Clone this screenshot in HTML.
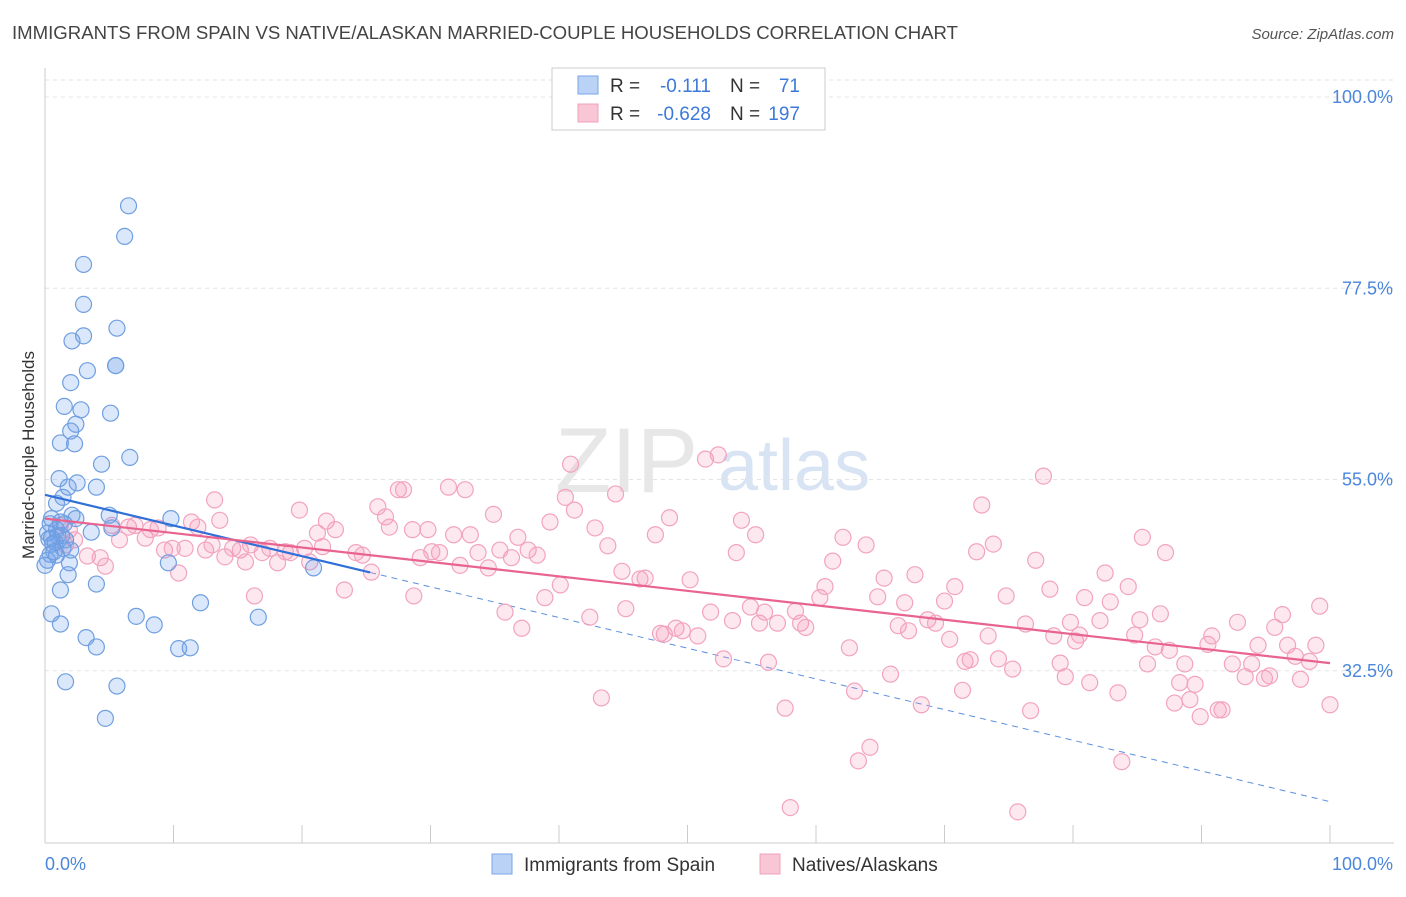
<!DOCTYPE html>
<html><head><meta charset="utf-8"><style>
body{margin:0;background:#fff;font-family:"Liberation Sans",sans-serif}
svg text{font-family:"Liberation Sans",sans-serif}
</style></head><body>
<svg id="chart" width="1406" height="892" viewBox="0 0 1406 892" xmlns="http://www.w3.org/2000/svg">
<text x="12" y="39" font-size="18.6" fill="#444">IMMIGRANTS FROM SPAIN VS NATIVE/ALASKAN MARRIED-COUPLE HOUSEHOLDS CORRELATION CHART</text>
<text x="1394" y="39" font-size="15" fill="#555" text-anchor="end" font-style="italic">Source: ZipAtlas.com</text>
<g>
<text x="555" y="492" font-size="92" fill="#ddd" font-family="Liberation Serif,serif" opacity="0.7">ZIP</text>
<text x="718" y="490" font-size="72" fill="#c8d8ee" opacity="0.7">atlas</text>
</g>
<g id="grid"></g>
<g id="axes"></g>
<g id="trend"></g>
<g id="pts"></g>
<text transform="translate(34,455) rotate(-90)" font-size="17" fill="#333" text-anchor="middle">Married-couple Households</text>
<g>
<rect x="552" y="68" width="273" height="62" fill="#fff" stroke="#ccc"/>
<rect x="578" y="76" width="20" height="18" fill="#b9d2f5" stroke="#7aa6e6"/>
<rect x="578" y="104" width="20" height="18" fill="#f9c6d6" stroke="#f0a0bc"/>
<text x="610" y="92" font-size="19" fill="#333">R =</text>
<text x="711" y="92" font-size="19" fill="#3d7ad8" text-anchor="end">-0.111</text>
<text x="730" y="92" font-size="19" fill="#333">N =</text>
<text x="800" y="92" font-size="19" fill="#3d7ad8" text-anchor="end">71</text>
<text x="610" y="120" font-size="19" fill="#333">R =</text>
<text x="711" y="120" font-size="19" fill="#3d7ad8" text-anchor="end">-0.628</text>
<text x="730" y="120" font-size="19" fill="#333">N =</text>
<text x="800" y="120" font-size="19" fill="#3d7ad8" text-anchor="end">197</text>
</g>
<g>
<rect x="492" y="854" width="20" height="20" fill="#b9d2f5" stroke="#7aa6e6"/>
<text x="524" y="871" font-size="19" fill="#333">Immigrants from Spain</text>
<rect x="760" y="854" width="20" height="20" fill="#f9c6d6" stroke="#f0a0bc"/>
<text x="792" y="871" font-size="19" fill="#333">Natives/Alaskans</text>
</g>
</svg>
<script>
const yTicks=[100,77.5,55,32.5];
const yTickLabels=["100.0%","77.5%","55.0%","32.5%"];
const xTickLabels=["0.0%","100.0%"];
const blueX=[6.5,6.2,3.0,3.0,5.6,3.0,2.1,5.5,3.3,2.0,1.5,2.8,5.1,2.4,2.0,1.2,2.3,6.6,4.4,1.1,4.0,2.5,1.8,1.4,0.9,5.0,2.1,0.5,2.4,9.8,0.4,1.5,0.9,3.6,5.2,0.2,0.5,1.0,1.3,1.6,0.6,1.4,2.0,0.9,0.4,0.0,1.9,9.6,1.8,20.9,4.0,1.2,12.1,0.5,7.1,8.5,1.2,16.6,3.2,4.0,10.4,11.3,1.6,5.6,4.7,0.2,0.8,1.2,5.5,0.3,0.7];
const blueY=[87.2,83.6,80.3,75.6,72.8,71.9,71.3,68.4,67.8,66.4,63.6,63.2,62.8,61.5,60.7,59.3,59.2,57.6,56.8,55.1,54.1,54.6,54.1,52.9,52.2,50.8,50.8,50.4,50.4,50.4,49.8,49.8,49.1,48.8,49.3,48.7,48.1,48.4,48.4,47.9,47.4,46.9,46.7,46.1,46.2,44.9,45.2,45.2,43.8,44.6,42.7,42.0,40.5,39.2,38.9,37.9,38.0,38.8,36.4,35.3,35.1,35.2,31.2,30.7,26.9,45.5,47.6,50.0,68.4,48.0,46.5];
const pinkX=[1.2,1.9,2.3,1.6,3.3,4.3,4.7,5.2,5.8,6.5,7.0,7.8,8.2,8.8,9.3,9.9,10.4,10.9,11.4,11.9,12.5,13.0,13.2,13.6,14.0,14.6,15.2,15.6,16.0,16.3,16.9,17.5,18.1,18.7,19.1,19.8,20.2,20.6,21.2,21.6,21.9,22.6,23.3,24.2,24.7,25.4,25.9,26.5,26.8,27.5,27.9,28.6,28.7,29.2,29.8,30.1,30.7,31.4,31.8,32.3,32.7,33.1,33.7,34.5,34.9,35.4,35.8,36.3,36.8,37.1,37.6,38.3,38.9,39.3,40.1,40.5,40.9,41.2,42.4,42.8,43.3,43.8,44.4,44.9,45.2,46.3,46.7,47.5,47.9,48.2,48.6,49.1,49.6,50.2,50.8,51.4,51.8,52.4,52.8,53.5,53.8,54.2,54.9,55.3,55.6,56.0,56.3,57.0,57.6,58.0,58.4,58.8,59.2,60.3,60.7,61.3,62.1,62.6,63.0,63.3,63.9,64.2,64.8,65.3,65.8,66.4,66.9,67.2,67.7,68.2,68.7,69.3,70.0,70.4,70.8,71.4,71.6,72.0,72.5,72.9,73.4,73.8,74.2,74.8,75.3,75.7,76.3,76.7,77.1,77.7,78.2,78.5,79.0,79.4,79.8,80.2,80.5,80.9,81.3,82.1,82.5,82.9,83.5,83.8,84.3,84.8,85.2,85.4,85.8,86.4,86.8,87.2,87.5,87.9,88.3,88.7,89.1,89.5,89.9,90.5,90.8,91.3,91.6,92.4,92.8,93.4,93.9,94.4,94.9,95.3,95.7,96.3,96.7,97.3,97.7,98.4,98.9,99.2,100];
const pinkY=[49.6,49.1,47.9,47.3,46.0,45.8,44.8,49.6,47.9,49.4,49.6,48.1,49.1,49.3,46.7,46.9,44.0,46.9,50.0,49.4,46.7,47.3,52.6,50.2,45.9,46.9,46.7,45.3,47.3,41.3,46.4,46.9,45.2,46.5,46.4,51.4,46.9,45.3,48.7,47.1,50.1,49.1,42.0,46.4,46.1,44.1,51.8,50.6,49.4,53.8,53.8,49.1,41.3,45.8,49.1,46.5,46.4,54.1,48.5,44.9,53.8,48.5,46.4,44.6,50.9,46.7,39.4,45.8,48.2,37.5,46.7,46.1,41.1,50.0,42.6,52.9,56.8,51.4,38.8,49.3,29.3,47.2,53.3,44.2,39.8,43.3,43.4,48.5,36.9,36.8,50.5,37.5,37.2,43.2,36.6,57.4,39.4,57.9,33.9,38.4,46.4,50.2,40.0,48.5,38.1,39.4,33.5,38.1,28.1,16.4,39.5,38.1,37.6,41.1,42.4,45.4,48.2,35.2,30.1,21.9,47.3,23.5,41.2,43.4,32.1,37.8,40.5,37.2,43.8,28.5,38.5,38.1,40.7,36.2,42.4,30.2,33.6,33.8,46.5,52.0,36.6,47.4,33.9,41.3,32.7,15.9,38.0,27.8,45.5,55.4,42.1,36.6,33.4,31.8,38.2,36.0,36.7,41.1,31.1,38.4,44.0,40.6,29.9,21.8,42.4,36.7,38.5,48.2,33.3,35.3,39.2,46.4,34.9,28.7,31.1,33.3,29.1,30.9,27.1,35.6,36.6,27.9,27.9,33.3,38.2,31.8,33.3,35.5,31.6,31.9,37.6,39.1,35.5,34.2,31.5,33.6,35.5,40.1,28.5];
const blueTrend=[53.2,17.1];
const blueSolidEnd=25.3;
const pinkTrend=[50.4,33.4];

const NS="http://www.w3.org/2000/svg";
const X=v=>45+v*12.85;
const Y=v=>97+(100-v)*8.5;
function mk(parent,tag,attrs){const e=document.createElementNS(NS,tag);for(const k in attrs)e.setAttribute(k,attrs[k]);document.getElementById(parent).appendChild(e);return e;}

let e=mk('grid','line',{x1:45,x2:1394,y1:80,y2:80,stroke:'#e4e4e4','stroke-dasharray':'4,4'});


yTicks.forEach((t,i)=>{
  const g=mk('grid','line',{x1:45,x2:1394,y1:Y(t),y2:Y(t),stroke:'#e4e4e4','stroke-dasharray':'4,4'});
  
  
  const l=mk('axes','text',{x:1393,y:Y(t)+6,'font-size':18,fill:'#4a86db','text-anchor':'end'});
  l.textContent=yTickLabels[i];
  
  
});
e=mk('axes','line',{x1:45,x2:45,y1:68,y2:843,stroke:'#ccc'});


e=mk('axes','line',{x1:45,x2:1394,y1:843,y2:843,stroke:'#ccc'});


for(let i=0;i<=10;i++){
  const t=mk('axes','line',{x1:X(i*10),x2:X(i*10),y1:825,y2:843,stroke:'#ccc'});
  
  
}
[[0,'start'],[100,'end']].forEach((p,i)=>{
  const l=mk('axes','text',{x:X(p[0])+(i?63:0),y:870,'font-size':18,fill:'#4a86db','text-anchor':p[1]});
  l.textContent=xTickLabels[i];
  
  
});
const bY=x=>blueTrend[0]+(blueTrend[1]-blueTrend[0])*x/100;
const pY=x=>pinkTrend[0]+(pinkTrend[1]-pinkTrend[0])*x/100;

for(let i=0;i<pinkX.length;i++){
  const c=mk('pts','circle',{cx:X(pinkX[i]),cy:Y(pinkY[i]),r:8,fill:'rgba(244,150,180,0.22)',stroke:'#f2a3bf','stroke-width':1.2});
  
  
}
for(let i=0;i<blueX.length;i++){
  const c=mk('pts','circle',{cx:X(blueX[i]),cy:Y(blueY[i]),r:8,fill:'rgba(110,160,235,0.25)',stroke:'#6f9fe0','stroke-width':1.2});
  
  
}
e=mk('trend','line',{x1:X(blueSolidEnd),y1:Y(bY(blueSolidEnd)),x2:X(100),y2:Y(bY(100)),stroke:'#5b8fe0','stroke-width':1,'stroke-dasharray':'6,5'});


e=mk('pts','line',{x1:X(0),y1:Y(bY(0)),x2:X(blueSolidEnd),y2:Y(bY(blueSolidEnd)),stroke:'#2f6fd8','stroke-width':2.2});


e=mk('pts','line',{x1:X(0),y1:Y(pY(0)),x2:X(100),y2:Y(pY(100)),stroke:'#e8648f','stroke-width':2.2});


</script>
</body></html>
